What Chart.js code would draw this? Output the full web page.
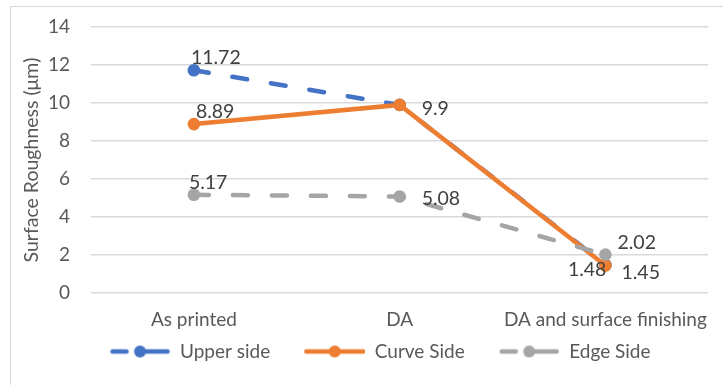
<!DOCTYPE html>
<html>
<head>
<meta charset="utf-8">
<script src="https://cdn.jsdelivr.net/npm/chart.js@4/dist/chart.umd.min.js"></script>
<style>
  html, body { margin: 0; padding: 0; background: #fff; }
  #wrap { position: relative; width: 723px; height: 385px; overflow: hidden; }
  #frame { position: absolute; left: 10px; top: 6px; width: 720px; height: 385px; border: 1px solid #d9d9d9; box-sizing: border-box; pointer-events: none; }
</style>
</head>
<body>
<div id="wrap">
  <canvas id="c" width="723" height="385"></canvas>
  <div id="frame"></div>
</div>
<script>
// Surface roughness for each processing stage
const stages = ['As printed', 'DA', 'DA and surface finishing'];
const upperSide = [11.72, 9.9, 1.48];
const curveSide = [8.89, 9.9, 1.45];
const edgeSide = [5.17, 5.08, 2.02];
const yTicks = [0, 2, 4, 6, 8, 10, 12, 14];

const BLUE = '#4472C4', ORANGE = '#ED7D31', GRAY = '#A5A5A5';
const FONT = 'Lato, "Open Sans", sans-serif';
const TEXT = '#595959';

// Where each value label sits relative to its point (dx, dy, align); null hides it
const labelPlacement = [
  [[-3, -13, 'left'], null, [1, 5, 'right']],
  [[2, -12, 'left'], [22, 4, 'left'], [16, 7, 'left']],
  [[-5, -12, 'left'], [22, 2, 'left'], [12, -12, 'left']]
];

// Legend swatch: line with a marker in the middle, with a blank lead-in on the left
const LEAD = 24, SW = 61;
function swatch(color, dashed) {
  const cv = document.createElement('canvas');
  cv.width = LEAD + SW; cv.height = 16;
  const g = cv.getContext('2d');
  g.strokeStyle = color; g.fillStyle = color;
  g.lineWidth = 4.5; g.lineCap = 'round';
  const x0 = LEAD, mid = LEAD + SW / 2;
  g.beginPath();
  if (dashed) {
    g.moveTo(x0 + 3, 8); g.lineTo(x0 + 17, 8);
    g.moveTo(mid + 4, 8); g.lineTo(x0 + SW - 3, 8);
  } else {
    g.moveTo(x0 + 2, 8); g.lineTo(x0 + SW - 2, 8);
  }
  g.stroke();
  g.beginPath(); g.arc(mid, 8, 6, 0, Math.PI * 2); g.fill();
  return cv;
}
const swatches = [swatch(BLUE, true), swatch(ORANGE, false), swatch(GRAY, true)];

const valueLabels = {
  id: 'valueLabels',
  afterDatasetsDraw(chart) {
    const ctx = chart.ctx;
    ctx.save();
    ctx.font = '19.5px ' + FONT;
    ctx.fillStyle = '#404040';
    ctx.textBaseline = 'middle';
    chart.data.datasets.forEach((ds, i) => {
      const meta = chart.getDatasetMeta(i);
      meta.data.forEach((pt, j) => {
        const p = labelPlacement[i][j];
        if (!p) return;
        ctx.textAlign = p[2];
        ctx.fillText(String(ds.data[j]), pt.x + p[0], pt.y + p[1]);
      });
    });
    ctx.restore();
  }
};

function series(label, data, color, dashed, order) {
  return {
    label, data, order,
    borderColor: color, backgroundColor: color,
    pointBackgroundColor: color, pointBorderColor: color,
    borderWidth: 4.5, borderDash: dashed ? [15, 24] : [],
    borderCapStyle: 'round',
    pointRadius: 6.3, pointHoverRadius: 6.3, pointBorderWidth: 0,
    tension: 0, fill: false
  };
}

const datasets = [
  series('Upper side', upperSide, BLUE, true, 3),
  series('Curve Side', curveSide, ORANGE, false, 2),
  series('Edge Side', edgeSide, GRAY, true, 1)
];

new Chart(document.getElementById('c'), {
  type: 'line',
  data: { labels: stages, datasets },
  options: {
    responsive: false,
    animation: false,
    events: [],
    layout: { padding: { left: 20, right: 7, top: 27, bottom: 14 } },
    plugins: {
      tooltip: { enabled: false },
      legend: {
        position: 'bottom',
        labels: {
          usePointStyle: true,
          pointStyleWidth: LEAD + SW,
          boxHeight: 16,
          padding: 10,
          color: TEXT,
          font: { family: FONT, size: 19 },
          generateLabels(chart) {
            return chart.data.datasets.map((ds, i) => ({
              text: ds.label,
              pointStyle: swatches[i],
              fillStyle: ds.borderColor,
              strokeStyle: ds.borderColor,
              lineWidth: 0,
              fontColor: TEXT,
              datasetIndex: i,
              hidden: false
            }));
          }
        }
      }
    },
    scales: {
      x: {
        offset: true,
        grid: { display: false, drawTicks: false, offset: true },
        border: { display: false },
        ticks: { color: TEXT, font: { family: FONT, size: 19 }, padding: 15, maxRotation: 0 },
        afterFit(s) { s.height = 39; }
      },
      y: {
        min: 0, max: 14,
        afterBuildTicks(s) { s.ticks = yTicks.map(v => ({ value: v })); },
        grid: { color: '#D9D9D9', lineWidth: 1.5, drawTicks: false },
        border: { display: false },
        ticks: { color: TEXT, font: { family: FONT, size: 19 }, padding: 21 },
        title: { display: true, text: 'Surface Roughness (μm)', color: TEXT, font: { family: FONT, size: 19.5 }, padding: { top: 0, bottom: 2 } },
        afterFit(s) { s.width = 71; s.paddingTop = 0; s.paddingBottom = 0; }
      }
    }
  },
  plugins: [valueLabels]
});
</script>
</body>
</html>
